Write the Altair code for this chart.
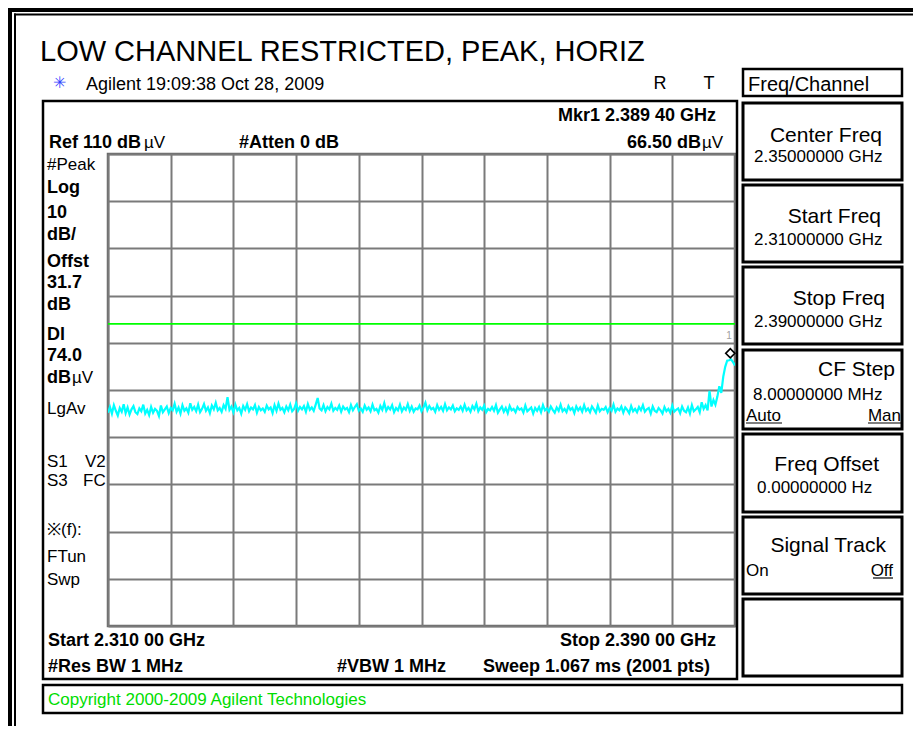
import altair as alt
import pandas as pd

# ---------------- data ----------------
START_GHZ = 2.310
STOP_GHZ = 2.390
REF_LEVEL = 110.0
BOTTOM_LEVEL = 10.0
DISPLAY_LINE = 74.0
MARKER_FREQ = 2.38940
MARKER_LEVEL = 66.50

x_grid = [2.310, 2.318, 2.326, 2.334, 2.342, 2.350, 2.358, 2.366, 2.374, 2.382, 2.390]
y_grid = [10, 20, 30, 40, 50, 60, 70, 80, 90, 100, 110]

levels = [
    55.2, 56.4, 55.0, 56.8, 55.6, 54.6, 56.2, 55.4, 57.0, 55.1, 56.3, 54.8, 55.9, 56.6, 55.3, 54.9, 56.1, 55.5, 56.9, 55.0,
    55.8, 54.7, 56.4, 55.2, 56.0, 55.6, 54.5, 56.7, 55.3, 55.9, 56.5, 55.1, 56.2, 55.7, 57.1, 55.4, 56.3, 55.0, 56.8, 55.6,
    56.1, 55.2, 57.2, 55.8, 56.4, 55.5, 56.9, 55.3, 56.0, 57.0, 55.6, 56.3, 55.1, 56.7, 55.9, 57.3, 55.7, 56.2, 55.4, 56.8,
    56.0, 58.5, 55.8, 56.5, 55.3, 56.9, 55.7, 56.2, 55.0, 56.6, 55.8, 57.0, 55.5, 56.3, 55.9, 56.8, 55.2, 56.4, 55.7, 56.1,
    55.4, 56.7, 55.9, 56.3, 55.1, 56.8, 55.6, 57.1, 55.8, 56.2, 55.3, 56.5, 55.7, 56.9, 55.5, 56.0, 57.2, 55.6, 56.4, 55.9,
    56.6, 55.4, 57.0, 55.8, 56.3, 55.6, 56.9, 58.3, 56.1, 55.7, 56.8, 55.5, 56.4, 55.9, 57.1, 55.6, 56.2, 55.8, 56.7, 55.4,
    56.5, 55.9, 56.2, 55.3, 56.8, 55.7, 56.4, 57.0, 55.6, 56.1, 55.4, 56.7, 55.8, 56.3, 55.5, 56.9, 55.7, 56.0, 55.2, 56.6,
    55.8, 57.2, 55.6, 56.4, 55.9, 56.8, 55.3, 56.2, 55.7, 56.9, 55.5, 56.3, 55.8, 57.0, 55.6, 56.5, 55.4, 56.1, 55.9, 56.7,
    55.5, 56.3, 57.3, 55.7, 56.6, 55.9, 56.2, 55.4, 56.8, 55.8, 56.4, 55.6, 57.0, 55.7, 56.3, 55.9, 56.7, 55.5, 56.1, 55.8,
    56.5, 55.6, 56.9, 55.7, 56.2, 55.4, 56.6, 55.9, 57.1, 55.5, 56.3, 55.8, 56.7, 55.3, 56.0, 55.7, 56.4, 55.6, 56.8, 55.2,
    55.9, 56.5, 55.4, 56.2, 55.1, 56.6, 55.7, 56.0, 55.3, 56.4, 55.8, 56.1, 55.2, 56.7, 55.5, 55.9, 56.3, 55.0, 56.2, 55.6,
    56.4, 55.3, 56.8, 55.7, 56.1, 55.4, 56.5, 55.8, 55.2, 56.3, 55.6, 56.9, 55.5, 56.0, 55.3, 56.6, 55.8, 56.2, 55.1, 56.5,
    55.7, 56.3, 55.4, 56.8, 55.6, 56.1, 55.3, 56.5, 55.9, 55.2, 56.7, 55.5, 56.0, 55.8, 56.4, 55.3, 56.2, 55.6, 56.9, 55.4,
    56.1, 55.7, 56.5, 55.2, 56.3, 55.8, 55.1, 56.6, 55.5, 56.0, 55.3, 56.4, 55.7, 56.8, 55.4, 55.9, 56.2, 55.0, 56.5, 55.6,
    55.3, 56.2, 55.7, 55.0, 56.4, 55.5, 56.0, 55.2, 56.7, 55.4, 55.8, 56.1, 55.1, 56.5, 55.6, 55.3, 56.3, 55.0, 56.8, 55.5,
    55.9, 56.4, 55.3, 57.4, 56.0, 56.8, 55.7, 59.8, 56.5, 57.9, 56.9, 58.6, 60.8, 59.4, 62.8, 64.9, 66.2, 66.3, 66.5, 65.9, 65.2,
]

n_pts = len(levels)
freqs = [START_GHZ + (STOP_GHZ - START_GHZ) * i / (n_pts - 1) for i in range(n_pts)]
trace = pd.DataFrame({"freq": freqs, "level": levels})
dl_df = pd.DataFrame({"level": [DISPLAY_LINE]})
mkr_df = pd.DataFrame({"freq": [MARKER_FREQ], "level": [MARKER_LEVEL]})

# ---------------- layout helpers (page pixel coordinates) ----------------
OX, OY = 108, 154          # plot-area origin on the page
PW, PH = 627, 472          # plot-area size
CW, CH = 905, 718          # canvas size
FONT = "Liberation Sans"
ONE = pd.DataFrame({"k": [0]})
BOLD = 18


def txt(s, x, y, size=17, bold=False, align="left", color="black"):
    return alt.Chart(ONE).mark_text(
        text=s, align=align, baseline="alphabetic", fontSize=(BOLD if bold and size == 17 else size),
        fontWeight="bold" if bold else "normal", color=color, font=FONT,
    ).encode(x=alt.value(x - OX), y=alt.value(y - OY))


def box(x1, y1, x2, y2, sw=2.5, color="black"):
    return alt.Chart(ONE).mark_rect(filled=False, stroke=color, strokeWidth=sw).encode(
        x=alt.value(x1 - OX), x2=alt.value(x2 - OX), y=alt.value(y1 - OY), y2=alt.value(y2 - OY))


def band(x1, y1, x2, y2, color="black"):
    return alt.Chart(ONE).mark_rect(color=color).encode(
        x=alt.value(x1 - OX), x2=alt.value(x2 - OX), y=alt.value(y1 - OY), y2=alt.value(y2 - OY))


def hline(x1, x2, y, sw=1.2, color="black"):
    return alt.Chart(ONE).mark_rule(color=color, strokeWidth=sw).encode(
        x=alt.value(x1 - OX), x2=alt.value(x2 - OX), y=alt.value(y - OY))


# ---------------- the spectrum plot ----------------
grid_axis_x = alt.Axis(values=x_grid, grid=True, labels=False, ticks=False, domain=False,
                       title=None, gridColor="#7a7a7a", gridWidth=2, gridOpacity=1)
grid_axis_y = alt.Axis(values=y_grid, grid=True, labels=False, ticks=False, domain=False,
                       title=None, gridColor="#7a7a7a", gridWidth=2, gridOpacity=1)
xs = alt.Scale(domain=[START_GHZ, STOP_GHZ], nice=False, zero=False)
ys = alt.Scale(domain=[BOTTOM_LEVEL, REF_LEVEL], nice=False, zero=False)
X = alt.X("freq:Q", scale=xs, axis=grid_axis_x)
Y = alt.Y("level:Q", scale=ys, axis=grid_axis_y)

trace_layer = alt.Chart(trace).mark_line(color="#00ffff", strokeWidth=2.2, clip=True).encode(x=X, y=Y)
dl_layer = alt.Chart(dl_df).mark_rule(color="#00ff00", strokeWidth=1.6).encode(y=Y)
mkr_layer = alt.Chart(mkr_df).mark_point(
    shape="diamond", filled=True, fill="white", stroke="black", strokeWidth=1.6,
    size=85, opacity=1, yOffset=-6).encode(x=X, y=Y)

layers = [trace_layer, dl_layer, mkr_layer]

# ---------------- frames ----------------
layers += [
    band(8, 8, CW + 8, 12), band(14, 13.5, CW + 8, 15.5),
    band(8, 8, 12, CH + 8), band(14, 13.5, 16, CH + 8),
    box(43, 101, 737, 679, 2.5),
    box(43, 685, 902, 713, 2.5),
    box(743, 69, 902, 96, 2.5),
]
for top, bot in [(103, 180), (185, 262), (267, 344), (350, 429), (434, 512), (517, 594), (599, 676)]:
    layers.append(box(743, top, 902, bot, 3))

# ---------------- texts ----------------
texts = [
    txt("LOW CHANNEL RESTRICTED, PEAK, HORIZ", 40, 61, size=29),
    txt("\u2733", 59, 88, size=16, align="center", color="#3344ff"),
    txt("Agilent  19:09:38  Oct 28, 2009", 86, 90, size=18),
    txt("R", 660, 89, size=18, align="center"),
    txt("T", 709, 89, size=18, align="center"),
    txt("Mkr1  2.389 40 GHz", 716, 121, bold=True, align="right"),
    txt("Ref 110 dB", 49, 148, bold=True), txt("\u00b5V", 144, 148),
    txt("#Atten 0 dB", 239, 148, bold=True),
    txt("66.50 dB", 701, 148, bold=True, align="right"), txt("\u00b5V", 702, 148),
    # left column
    txt("#Peak", 47, 170),
    txt("Log", 47, 193, bold=True),
    txt("10", 47, 218, bold=True),
    txt("dB/", 47, 240, bold=True),
    txt("Offst", 47, 267, bold=True),
    txt("31.7", 47, 288, bold=True),
    txt("dB", 47, 310, bold=True),
    txt("Dl", 47, 340, bold=True),
    txt("74.0", 47, 361, bold=True),
    txt("dB", 47, 383, bold=True), txt("\u00b5V", 72, 383),
    txt("LgAv", 47, 414),
    txt("S1", 47, 467), txt("V2", 85, 467),
    txt("S3", 47, 486), txt("FC", 83, 486),
    txt("\u203b(f):", 47, 535),
    txt("FTun", 47, 562),
    txt("Swp", 47, 585),
    # bottom annotations
    txt("Start 2.310 00 GHz", 48, 646, bold=True),
    txt("Stop 2.390 00 GHz", 716, 646, bold=True, align="right"),
    txt("#Res BW 1 MHz", 48, 672, bold=True),
    txt("#VBW 1 MHz", 337, 672, bold=True),
    txt("Sweep 1.067 ms (2001 pts)", 483, 672, bold=True),
    txt("Copyright 2000-2009 Agilent Technologies", 48, 705, color="#00dd00"),
    # marker label
    txt("1", 729, 339, size=10, align="center", color="#a0a0a0"),
    # softkeys
    txt("Freq/Channel", 748, 91, size=20),
    txt("Center Freq", 882, 142, size=21, align="right"),
    txt("2.35000000 GHz", 754, 162),
    txt("Start Freq", 881, 223, size=21, align="right"),
    txt("2.31000000 GHz", 754, 245),
    txt("Stop Freq", 885, 305, size=21, align="right"),
    txt("2.39000000 GHz", 754, 327),
    txt("CF Step", 895, 376, size=21, align="right"),
    txt("8.00000000 MHz", 753, 400),
    txt("Auto", 746, 421), txt("Man", 901, 421, align="right"),
    txt("Freq Offset", 879, 471, size=21, align="right"),
    txt("0.00000000  Hz", 757, 493),
    txt("Signal Track", 886, 552, size=21, align="right"),
    txt("On", 746, 576), txt("Off", 893, 576, align="right"),
]
layers += texts
layers += [hline(746, 782, 423), hline(868, 901, 423), hline(873, 893, 578)]

chart = alt.layer(*layers).properties(
    width=PW, height=PH,
    autosize=alt.AutoSizeParams(type="none"),
    padding={"left": OX - 8, "top": OY - 8, "right": CW - (OX - 8) - PW, "bottom": CH - (OY - 8) - PH},
    background="white",
).configure_view(stroke="#6a6a6a", strokeWidth=2.5)

chart.save("out.html", embed_options={"renderer": "svg", "actions": False})
